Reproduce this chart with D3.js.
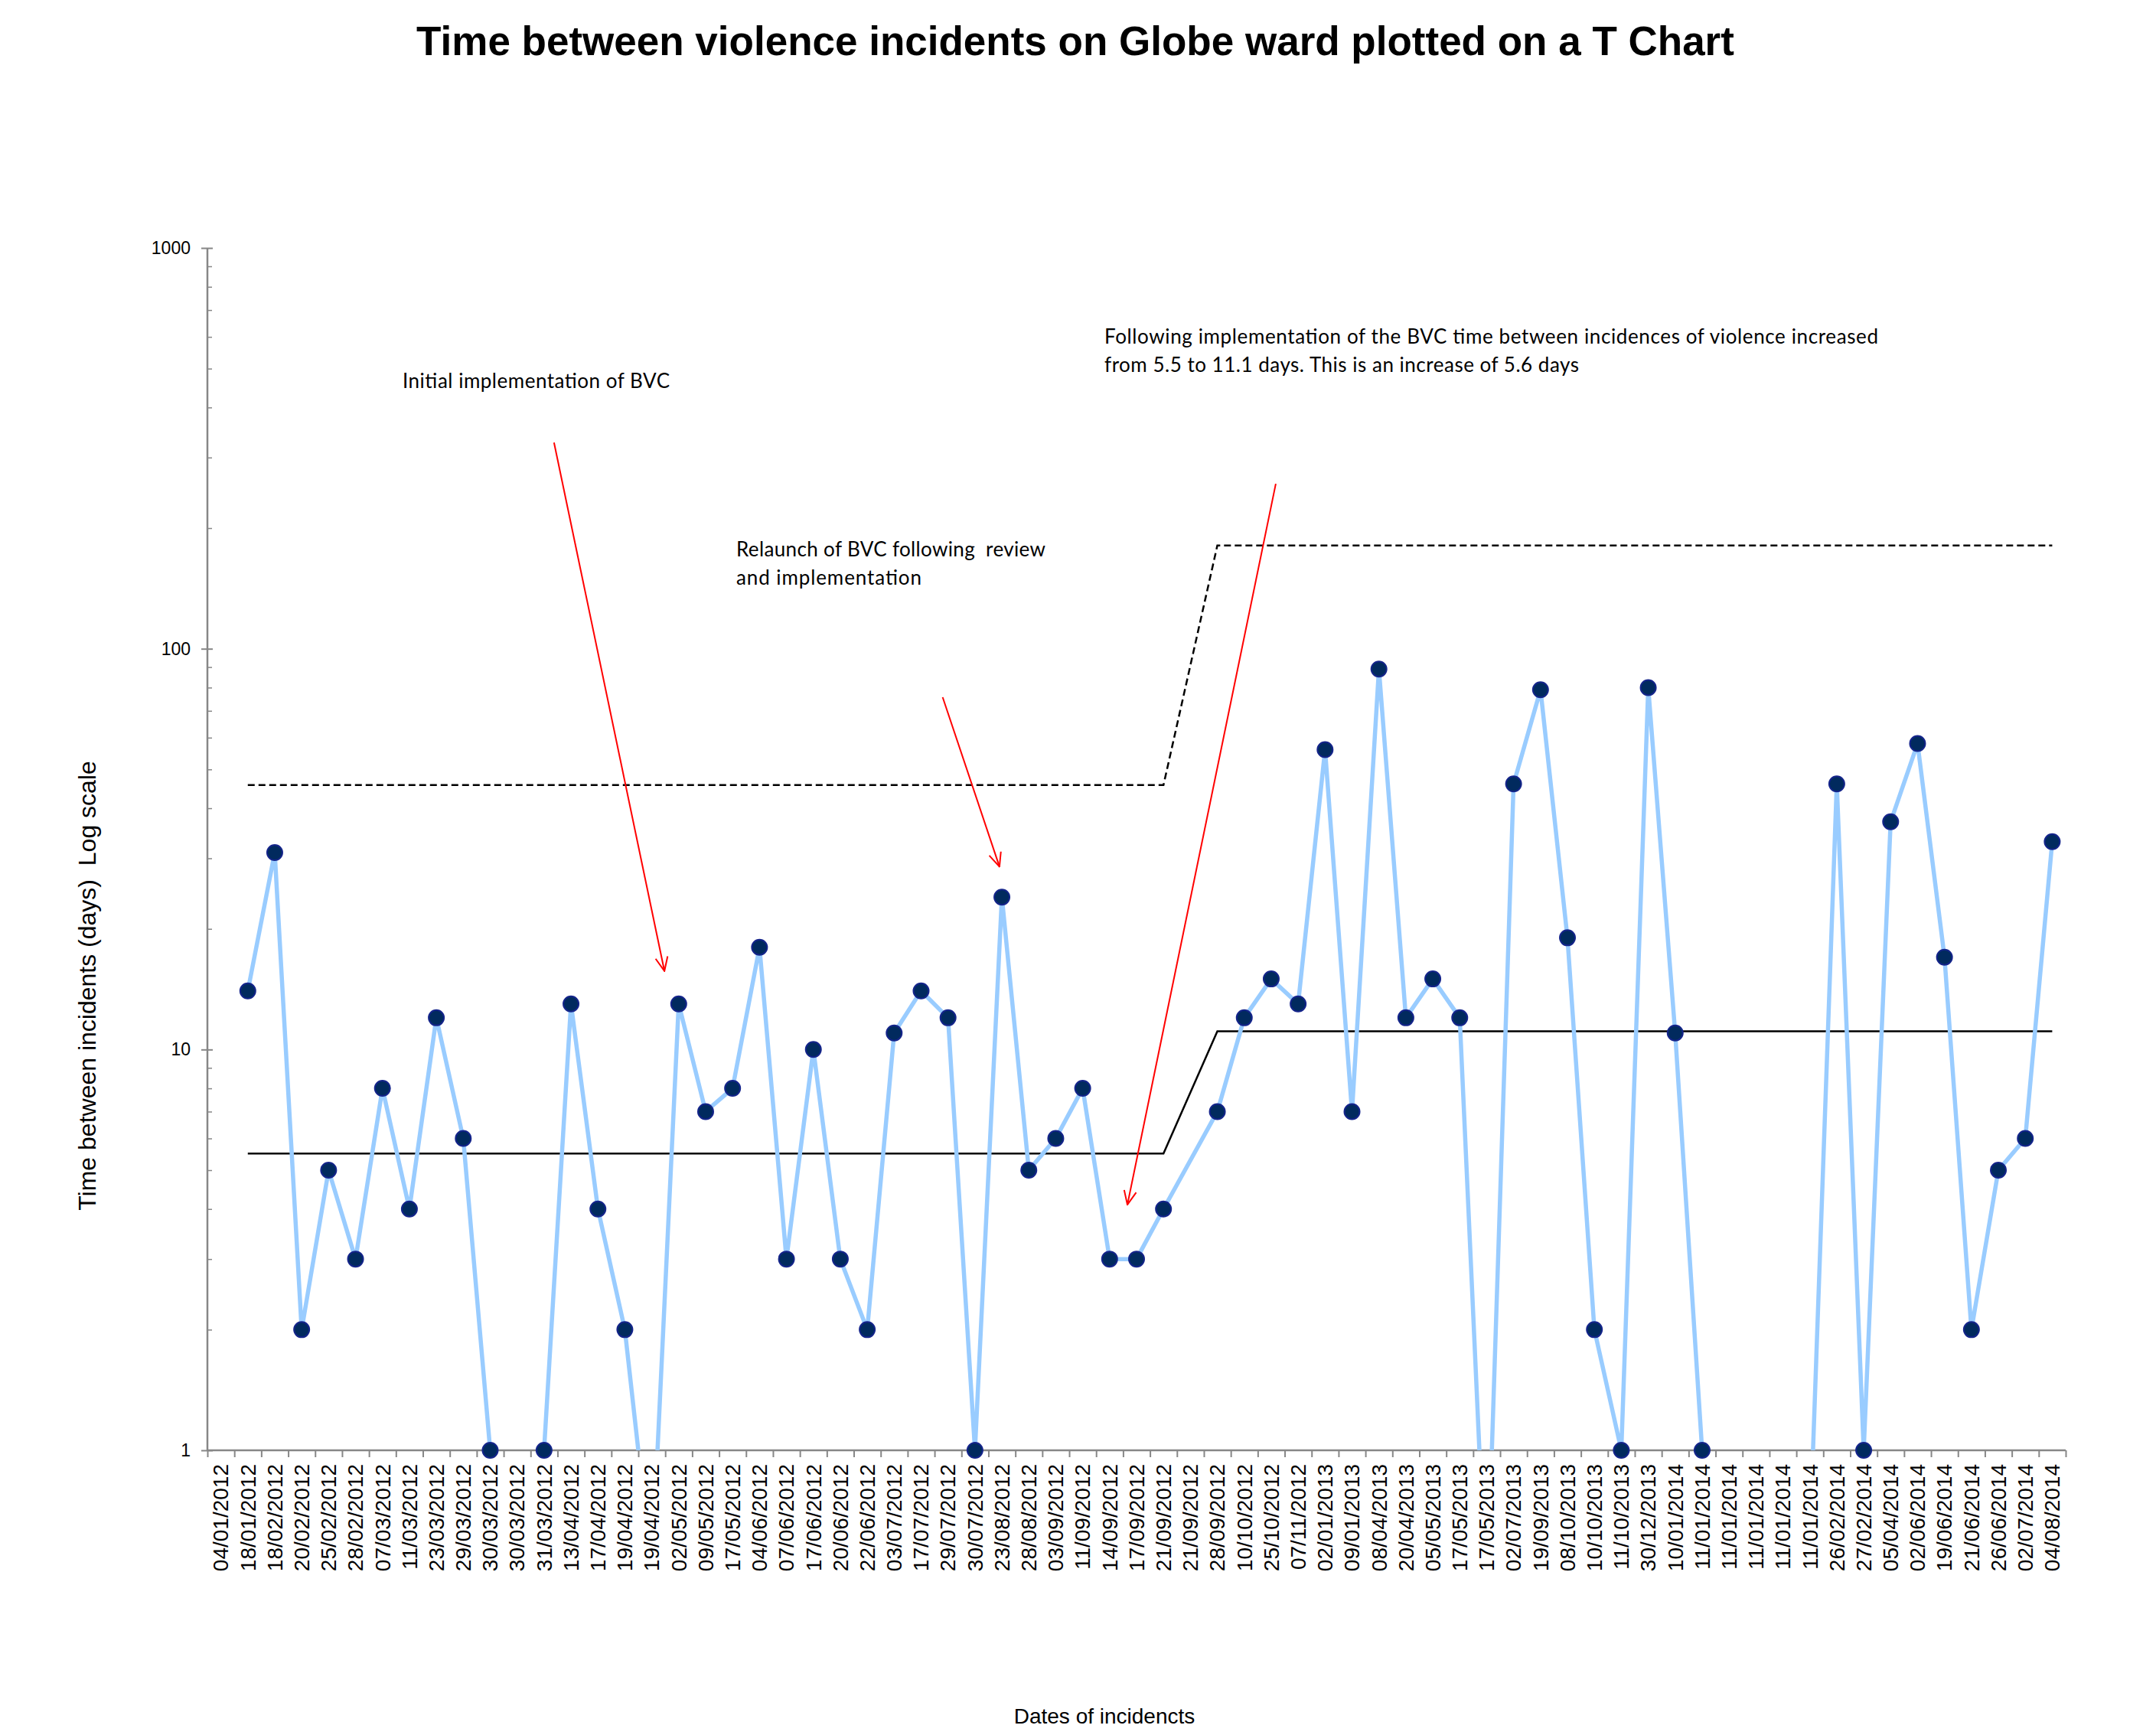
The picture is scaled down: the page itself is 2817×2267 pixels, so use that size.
<!DOCTYPE html>
<html>
<head>
<meta charset="utf-8">
<script src="https://cdn.jsdelivr.net/npm/d3@7"></script>
<style>
  html, body { margin: 0; padding: 0; background: #fff; }
  svg { display: block; }
  text { font-family: "Liberation Sans", Arial, sans-serif; }
  .note { font-family: Lato, "Open Sans", sans-serif; white-space: pre; }
</style>
</head>
<body>
<div id="chart"></div>
<script>
// dates of incidents (one category per incident, dates repeat)
const dates = [
  "04/01/2012", "18/01/2012", "18/02/2012", "20/02/2012", "25/02/2012", "28/02/2012",
  "07/03/2012", "11/03/2012", "23/03/2012", "29/03/2012", "30/03/2012", "30/03/2012",
  "31/03/2012", "13/04/2012", "17/04/2012", "19/04/2012", "19/04/2012", "02/05/2012",
  "09/05/2012", "17/05/2012", "04/06/2012", "07/06/2012", "17/06/2012", "20/06/2012",
  "22/06/2012", "03/07/2012", "17/07/2012", "29/07/2012", "30/07/2012", "23/08/2012",
  "28/08/2012", "03/09/2012", "11/09/2012", "14/09/2012", "17/09/2012", "21/09/2012",
  "21/09/2012", "28/09/2012", "10/10/2012", "25/10/2012", "07/11/2012", "02/01/2013",
  "09/01/2013", "08/04/2013", "20/04/2013", "05/05/2013", "17/05/2013", "17/05/2013",
  "02/07/2013", "19/09/2013", "08/10/2013", "10/10/2013", "11/10/2013", "30/12/2013",
  "10/01/2014", "11/01/2014", "11/01/2014", "11/01/2014", "11/01/2014", "11/01/2014",
  "26/02/2014", "27/02/2014", "05/04/2014", "02/06/2014", "19/06/2014", "21/06/2014",
  "26/06/2014", "02/07/2014", "04/08/2014"
];

// days since the previous incident (null = not plotted, < 1 = same day, falls below the axis)
const days = [
  null, 14, 31, 2, 5, 3,
  8, 4, 12, 6, 1, 0.5,
  1, 13, 4, 2, 0.5, 13,
  7, 8, 18, 3, 10, 3,
  2, 11, 14, 12, 1, 24,
  5, 6, 8, 3, 3, 4,
  null, 7, 12, 15, 13, 56,
  7, 89, 12, 15, 12, 0.4,
  46, 79, 19, 2, 1, 80,
  11, 1, 0.5, 0.5, 0.5, 0.6,
  46, 1, 37, 58, 17, 2,
  5, 6, 33
];

// T chart phases: category index range, centre line (mean) and upper control limit
const phases = [
  { start: 1, end: 35, mean: 5.5, ucl: 45.7 },
  { start: 37, end: 68, mean: 11.1, ucl: 181 }
];

const yTicks = [1, 10, 100, 1000];

const title = "Time between violence incidents on Globe ward plotted on a T Chart";
const yTitle = "Time between incidents (days)  Log scale";
const xTitle = "Dates of incidencts";
const noteInitial = ["Initial implementation of BVC"];
const noteRelaunch = ["Relaunch of BVC following  review", "and implementation"];
const noteResult = [
  "Following implementation of the BVC time between incidences of violence increased",
  "from 5.5 to 11.1 days. This is an increase of 5.6 days"
];

const W = 2817, H = 2267;
const plotL = 271, plotR = 2699, plotT = 324, plotB = 1895;

const svg = d3.select("#chart").append("svg")
  .attr("width", W)
  .attr("height", H);

// SCALES
const x = d3.scaleBand()
  .domain(d3.range(dates.length))
  .range([plotL, plotR]);
const xi = d3.scaleLinear()      // category index -> px, for boundaries and annotations
  .domain([0, dates.length])
  .range([plotL, plotR]);
const cx = i => x(i) + x.bandwidth() / 2;

const y = d3.scaleLog()
  .domain([1, 1000])
  .range([plotB, plotT]);

const defs = svg.append("defs");
defs.append("clipPath")
  .attr("id", "plot-clip")
  .append("rect")
  .attr("x", plotL)
  .attr("y", 0)
  .attr("width", plotR - plotL)
  .attr("height", plotB);

const arrow = defs.append("marker")
  .attr("id", "arrow")
  .attr("viewBox", "0 0 20 20")
  .attr("refX", 19)
  .attr("refY", 10)
  .attr("markerWidth", 20)
  .attr("markerHeight", 20)
  .attr("markerUnits", "userSpaceOnUse")
  .attr("orient", "auto");
arrow.append("path")
  .attr("d", "M1,2 L19,10 L1,18")
  .attr("fill", "none")
  .attr("stroke", "#ff0000")
  .attr("stroke-width", 2);

// TITLE
svg.append("text")
  .attr("x", 1405)
  .attr("y", 72)
  .attr("text-anchor", "middle")
  .style("font-size", "53px")
  .style("font-weight", "bold")
  .text(title);

// AXES
const axisColor = "#878787";

// x: ticks on category boundaries
const xTicksG = svg.append("g")
  .attr("transform", `translate(0,${plotB})`)
  .call(d3.axisBottom(xi).tickValues(d3.range(dates.length + 1)).tickSize(9).tickFormat(""));
xTicksG.select(".domain").remove();
xTicksG.selectAll("line").attr("stroke", axisColor).attr("stroke-width", 2);

// x: rotated date labels
const xLab = svg.append("g")
  .attr("transform", `translate(0,${plotB})`)
  .call(d3.axisBottom(x).tickSize(0).tickFormat(i => dates[i]));
xLab.select(".domain").remove();
xLab.selectAll("text")
  .attr("transform", "rotate(-90)")
  .attr("x", -18)
  .attr("y", 0)
  .attr("dy", "0.35em")
  .style("text-anchor", "end")
  .style("font-size", "28px")
  .style("font-family", "'Liberation Sans', Arial, sans-serif")
  .attr("fill", "#000");

// y: major ticks + labels
const yAxis = svg.append("g")
  .attr("transform", `translate(${plotL},0)`)
  .call(d3.axisLeft(y).tickValues(yTicks).tickFormat(d3.format("d")).tickSize(8).tickPadding(14));
yAxis.select(".domain").remove();
yAxis.selectAll("line").attr("stroke", axisColor).attr("stroke-width", 2);
yAxis.selectAll("text")
  .style("font-size", "23px")
  .style("font-family", "'Liberation Sans', Arial, sans-serif")
  .attr("fill", "#000");

// y: major ticks crossing to the inside, and minor ticks
const yIn = svg.append("g")
  .attr("transform", `translate(${plotL},0)`)
  .call(d3.axisRight(y).tickValues(yTicks).tickSize(7).tickFormat(""));
yIn.select(".domain").remove();
yIn.selectAll("line").attr("stroke", axisColor).attr("stroke-width", 2);

const minors = y.ticks().filter(t => !yTicks.includes(t));
const yMinor = svg.append("g")
  .attr("transform", `translate(${plotL},0)`)
  .call(d3.axisRight(y).tickValues(minors).tickSize(6).tickFormat(""));
yMinor.select(".domain").remove();
yMinor.selectAll("line").attr("stroke", axisColor).attr("stroke-width", 1.5);

// axis lines
svg.append("line")
  .attr("x1", plotL).attr("x2", plotL)
  .attr("y1", y(1000)).attr("y2", y(1))
  .attr("stroke", axisColor).attr("stroke-width", 2.5);
svg.append("line")
  .attr("x1", plotL).attr("x2", plotR)
  .attr("y1", y(1)).attr("y2", y(1))
  .attr("stroke", axisColor).attr("stroke-width", 2.5);

// axis titles
svg.append("text")
  .attr("transform", "translate(125,1288) rotate(-90)")
  .attr("text-anchor", "middle")
  .style("font-size", "32px")
  .style("white-space", "pre")
  .text(yTitle);

svg.append("text")
  .attr("x", 1443)
  .attr("y", 2252)
  .attr("text-anchor", "middle")
  .style("font-size", "28px")
  .text(xTitle);

// CONTROL LINES
const phasePts = key => phases.flatMap(p => [
  { i: p.start, v: p[key] },
  { i: p.end, v: p[key] }
]);
const ctl = d3.line().x(d => cx(d.i)).y(d => y(d.v));

svg.append("path")
  .datum(phasePts("ucl"))
  .attr("d", ctl)
  .attr("fill", "none")
  .attr("stroke", "#000")
  .attr("stroke-width", 2.5)
  .attr("stroke-dasharray", "9,5");

svg.append("path")
  .datum(phasePts("mean"))
  .attr("d", ctl)
  .attr("fill", "none")
  .attr("stroke", "#000")
  .attr("stroke-width", 2.5);

// DATA LINE + MARKERS
const pts = days.map((v, i) => ({ i, v })).filter(d => d.v != null);

svg.append("path")
  .datum(pts)
  .attr("clip-path", "url(#plot-clip)")
  .attr("d", d3.line().x(d => cx(d.i)).y(d => y(d.v)))
  .attr("fill", "none")
  .attr("stroke", "#99ccff")
  .attr("stroke-width", 5.5)
  .attr("stroke-linejoin", "round");

svg.append("g")
  .selectAll("circle")
  .data(pts.filter(d => d.v >= 1))
  .enter()
  .append("circle")
  .attr("cx", d => cx(d.i))
  .attr("cy", d => y(d.v))
  .attr("r", 10)
  .attr("fill", "#012a5e")
  .attr("stroke", "#14248a")
  .attr("stroke-width", 2);

// ANNOTATIONS
function note(lines, px, py, lens) {
  svg.append("g").selectAll("text")
    .data(lines)
    .enter()
    .append("text")
    .attr("class", "note")
    .attr("x", px)
    .attr("y", (d, k) => py + k * 36.5)
    .attr("textLength", (d, k) => lens[k])
    .style("font-size", "26px")
    .attr("fill", "#000")
    .text(d => d);
}
note(noteInitial, 526, 507, [349]);
note(noteRelaunch, 962, 727, [404, 242]);
note(noteResult, 1443, 449, [1011, 620]);

// red arrows, ends given as (category index, days)
const arrows = [
  [[12.87, 327], [16.97, 15.7]],
  [[27.3, 75.7], [29.41, 28.6]],
  [[39.67, 258], [34.16, 4.1]]
];
svg.append("g")
  .selectAll("line")
  .data(arrows)
  .enter()
  .append("line")
  .attr("x1", d => xi(d[0][0]))
  .attr("y1", d => y(d[0][1]))
  .attr("x2", d => xi(d[1][0]))
  .attr("y2", d => y(d[1][1]))
  .attr("stroke", "#ff0000")
  .attr("stroke-width", 2)
  .attr("marker-end", "url(#arrow)");
</script>
</body>
</html>
